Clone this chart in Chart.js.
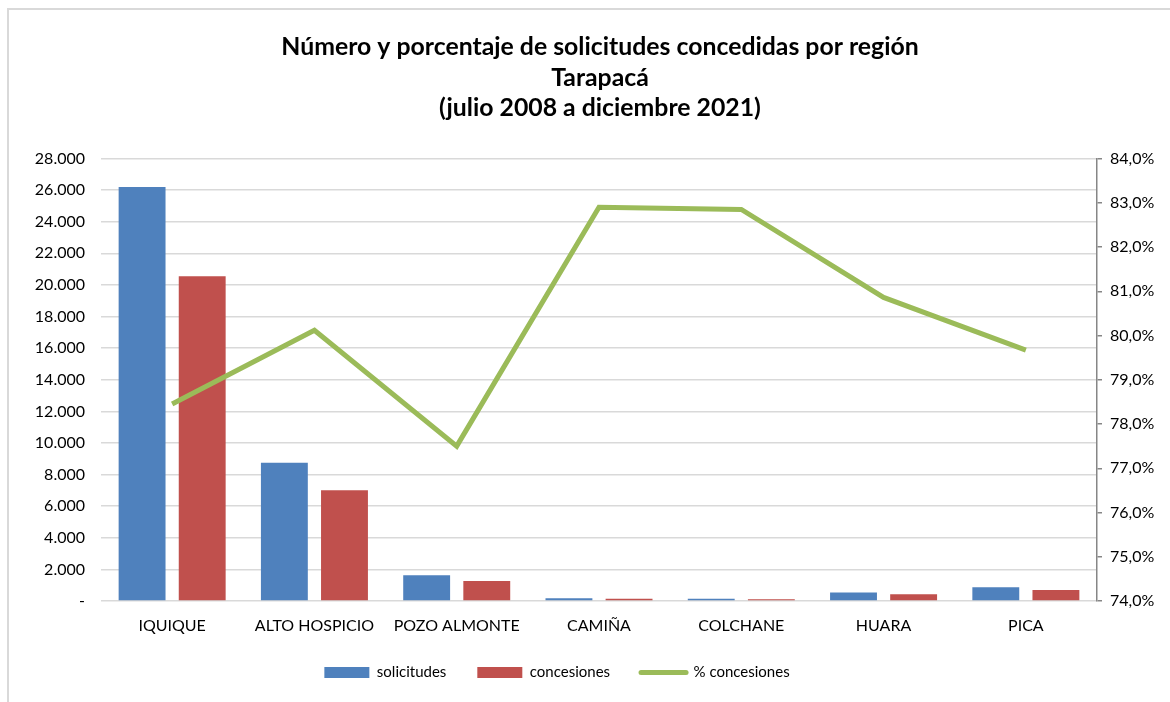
<!DOCTYPE html>
<html lang="es">
<head>
<meta charset="utf-8">
<script src="https://cdn.jsdelivr.net/npm/chart.js@4.4.1/dist/chart.umd.min.js"></script>
<style>
  html, body { margin: 0; padding: 0; background: #fff; }
  #frame {
    position: absolute; left: 7px; top: 8px; width: 1200px; height: 720px;
    border: 2px solid #d9d9d9; box-sizing: border-box;
  }
  #wrap { position: absolute; left: 0; top: 0; width: 1170px; height: 702px; }
</style>
</head>
<body>
<div id="frame"></div>
<div id="wrap"><canvas id="chart"></canvas></div>
<script>
// Tarapacá, julio 2008 a diciembre 2021
const regiones = ['IQUIQUE', 'ALTO HOSPICIO', 'POZO ALMONTE', 'CAMIÑA', 'COLCHANE', 'HUARA', 'PICA'];
const solicitudes = [26200, 8750, 1630, 175, 135, 530, 870];
const concesiones = [20550, 7010, 1265, 145, 112, 428, 693];
const pctConcesiones = [78.45, 80.12, 77.5, 82.9, 82.85, 80.86, 79.67];

const titleLines = [
  'Número y porcentaje de solicitudes concedidas por región',
  'Tarapacá',
  '(julio 2008 a diciembre 2021)'
];

const FONT = 'Lato, "Open Sans", sans-serif';

function miles(v) {
  if (v === 0) return '-';
  return String(v).replace(/\B(?=(\d{3})+(?!\d))/g, '.');
}

// in the original the title is centred on the page and the legend sits left of centre
const nudgeBlocks = {
  id: 'nudgeBlocks',
  afterLayout(chart) {
    chart.legend.left -= 28;
    chart.legend.right -= 28;
    chart.titleBlock.left += 15;
    chart.titleBlock.right += 15;
  }
};

const ctx = document.getElementById('chart');
new Chart(ctx, {
  type: 'bar',
  data: {
    labels: regiones,
    datasets: [
      {
        label: 'solicitudes',
        data: solicitudes,
        backgroundColor: '#4F81BD',
        yAxisID: 'y',
        order: 1,
        pointStyle: 'rect'
      },
      {
        label: 'concesiones',
        data: concesiones,
        backgroundColor: '#C0504D',
        yAxisID: 'y',
        order: 1,
        pointStyle: 'rect'
      },
      {
        type: 'line',
        label: '% concesiones',
        data: pctConcesiones,
        borderColor: '#9BBB59',
        backgroundColor: '#9BBB59',
        borderWidth: 5,
        pointRadius: 0,
        pointHoverRadius: 0,
        pointStyle: 'line',
        pointBorderColor: '#9BBB59',
        pointBorderWidth: 5,
        borderJoinStyle: 'miter',
        fill: false,
        tension: 0,
        yAxisID: 'y1',
        order: 0
      }
    ]
  },
  options: {
    responsive: true,
    maintainAspectRatio: false,
    animation: false,
    datasets: {
      bar: {
        categoryPercentage: 0.845,
        barPercentage: 0.78
      }
    },
    layout: {
      padding: { left: 0, right: 0, top: 0, bottom: 12 }
    },
    plugins: {
      title: {
        display: true,
        text: titleLines,
        color: '#000',
        font: { family: FONT, size: 24.8, weight: 'bold', lineHeight: 1.23 },
        padding: { top: 32, bottom: 35 }
      },
      legend: {
        display: true,
        position: 'bottom',
        labels: {
          usePointStyle: true,
          pointStyleWidth: 45,
          boxHeight: 11,
          padding: 31,
          color: '#000',
          font: { family: FONT, size: 15 },
          sort: (a, b) => a.datasetIndex - b.datasetIndex,
          generateLabels: (chart) => {
            const items = Chart.defaults.plugins.legend.labels.generateLabels(chart);
            items.forEach(item => {
              if (item.pointStyle === 'line') {
                item.lineWidth = 5;
                item.lineCap = 'round';
                item.strokeStyle = '#9BBB59';
              } else {
                item.lineWidth = 0;
              }
            });
            return items;
          }
        }
      },
      tooltip: { enabled: false }
    },
    scales: {
      x: {
        afterFit: (scale) => { scale.height = 33; },
        grid: { display: false },
        border: { display: false },
        ticks: {
          color: '#000',
          padding: 7,
          maxRotation: 0,
          autoSkip: false,
          font: { family: FONT, size: 16 }
        }
      },
      y: {
        position: 'left',
        min: 0,
        max: 28000,
        afterFit: (scale) => { scale.width = 101; },
        border: { display: false },
        grid: {
          color: '#d9d9d9',
          lineWidth: 1.5,
          drawTicks: false
        },
        ticks: {
          stepSize: 2000,
          color: '#000',
          padding: 16,
          font: { family: FONT, size: 16 },
          callback: (v) => miles(v)
        }
      },
      y1: {
        position: 'right',
        min: 74,
        max: 84,
        afterFit: (scale) => { scale.width = 73; },
        border: { display: true, color: '#868686', width: 1.5 },
        grid: {
          drawOnChartArea: false,
          drawTicks: true,
          tickLength: 5,
          color: '#868686',
          lineWidth: 1.5
        },
        ticks: {
          stepSize: 1,
          color: '#000',
          padding: 8,
          font: { family: FONT, size: 16 },
          callback: (v) => v.toFixed(1).replace('.', ',') + '%'
        }
      }
    }
  },
  plugins: [nudgeBlocks]
});
</script>
</body>
</html>
